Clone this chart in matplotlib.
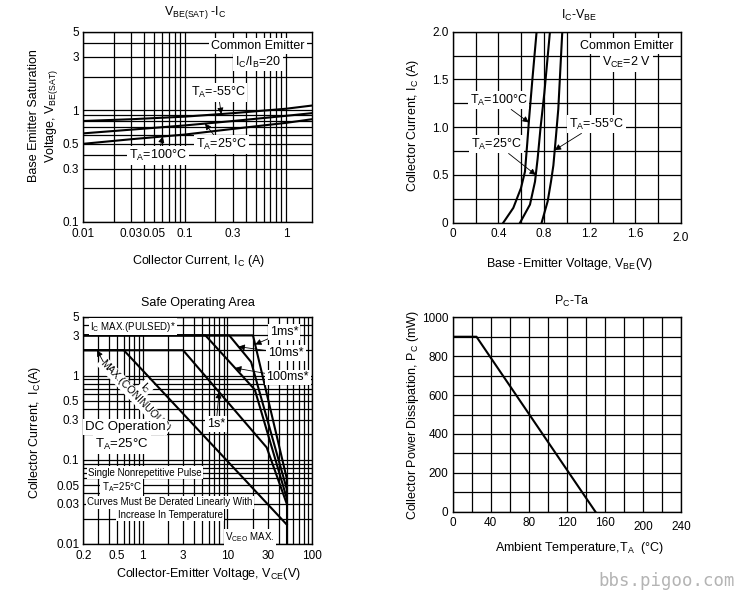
import numpy as np
import matplotlib
matplotlib.use('Agg')
import matplotlib.pyplot as plt
from matplotlib.ticker import NullFormatter

plt.rcParams['font.family'] = ['Liberation Sans', 'DejaVu Sans']
plt.rcParams['mathtext.fontset'] = 'custom'
plt.rcParams['mathtext.rm'] = 'Liberation Sans'
plt.rcParams['mathtext.it'] = 'Liberation Sans:italic'
plt.rcParams['mathtext.bf'] = 'Liberation Sans:bold'
plt.rcParams['font.size'] = 9

# VBE(SAT) - Ic
ic_sat = [0.01, 0.03, 0.1, 0.3, 1.0, 1.8]
vbe_sat_m55 = [0.80, 0.83, 0.875, 0.94, 1.03, 1.10]
vbe_sat_25 = [0.62, 0.67, 0.73, 0.80, 0.89, 0.94]
vbe_sat_100 = [0.50, 0.55, 0.605, 0.68, 0.77, 0.83]

# Ic - VBE
vbe_100 = [0.443, 0.531, 0.598, 0.633, 0.654, 0.669, 0.698, 0.735]
ic_100 = [0.0, 0.155, 0.362, 0.534, 0.845, 1.086, 1.5, 2.0]
vbe_25 = [0.59, 0.677, 0.721, 0.744, 0.77, 0.803, 0.852]
ic_25 = [0.0, 0.19, 0.43, 0.67, 1.0, 1.36, 2.0]
vbe_m55 = [0.779, 0.832, 0.861, 0.882, 0.905, 0.925, 0.96]
ic_m55 = [0.0, 0.224, 0.43, 0.6, 0.91, 1.19, 2.0]

# Safe operating area
vce_dc = [0.2, 0.6, 50]
ic_dc = [2, 2, 0.017]
vce_1s = [0.2, 3, 29, 50]
ic_1s = [2, 2, 0.14, 0.03]
vce_100ms = [0.2, 5.5, 21, 50]
ic_100ms = [3, 3, 0.68, 0.035]
vce_10ms = [0.2, 10.5, 19, 50]
ic_10ms = [3, 3, 1.45, 0.045]
vce_1ms = [0.2, 20, 50]
ic_1ms = [3, 3, 0.06]
vceo = [50, 50]
ic_vceo = [0.06, 0.01]

# Pc - Ta
ta = [0, 25, 150]
pc = [900, 900, 0]

W, H = 743, 600
fig = plt.figure(figsize=(W / 100, H / 100), dpi=100)


def ftext(px, py, s, **kw):
    fig.text(px / W, 1 - py / H, s, ha='center', va='center', **kw)


def add_ax(l, t, r, b):
    return fig.add_axes([l / W, 1 - b / H, (r - l) / W, (b - t) / H])


def log_minors(lo, hi, majors):
    out = []
    for e in range(-3, 3):
        for k in range(1, 10):
            v = round(k * 10.0 ** e, 6)
            if lo <= v <= hi and v not in majors:
                out.append(v)
    return out


def on_loglog(x, xs, ys):
    return 10 ** np.interp(np.log10(x), np.log10(xs), np.log10(ys))


def style(ax, xpad=3):
    ax.grid(which='both', color='k', lw=0.9)
    ax.set_axisbelow(True)
    ax.tick_params(which='both', length=0, pad=3, labelsize=8.5)
    ax.tick_params(axis='x', which='both', pad=xpad)
    for s in ax.spines.values():
        s.set_linewidth(1.0)


box = dict(boxstyle='square,pad=0.15', fc='white', ec='none')
arw = dict(arrowstyle='-|>', lw=0.6, color='k', mutation_scale=9, shrinkA=0, shrinkB=0)
lw_curve = 1.5

# ---------------- VBE(SAT) - Ic ----------------
ax1 = add_ax(83, 32, 312, 222)
ax1.set_xscale('log')
ax1.set_yscale('log')
ax1.plot(ic_sat, vbe_sat_m55, color='k', lw=lw_curve)
ax1.plot(ic_sat, vbe_sat_25, color='k', lw=lw_curve)
ax1.plot(ic_sat, vbe_sat_100, color='k', lw=lw_curve)
ax1.set_xlim(0.01, 1.8)
ax1.set_ylim(0.1, 5)
xt = [0.01, 0.03, 0.05, 0.1, 0.3, 1]
yt = [0.1, 0.3, 0.5, 1, 3, 5]
ax1.set_xticks(xt)
ax1.set_xticklabels(['0.01', '0.03', '0.05', '0.1', '0.3', '1'])
ax1.set_xticks(log_minors(0.01, 1.8, xt), minor=True)
ax1.set_yticks(yt)
ax1.set_yticklabels(['0.1', '0.3', '0.5', '1', '3', '5'])
ax1.set_yticks(log_minors(0.1, 5, yt), minor=True)
ax1.xaxis.set_minor_formatter(NullFormatter())
ax1.yaxis.set_minor_formatter(NullFormatter())
style(ax1, xpad=4.5)
ax1.text(0.764, 0.926, 'Common Emitter', transform=ax1.transAxes, ha='center', va='center', bbox=box)
ax1.text(0.764, 0.842, r'I$_\mathregular{C}$/I$_\mathregular{B}$=20', transform=ax1.transAxes,
         ha='center', va='center', bbox=box)
ax1.annotate(r'T$_\mathregular{A}$=-55°C', xy=(0.23, on_loglog(0.23, ic_sat, vbe_sat_m55)),
             xytext=(0.214, 1.44), ha='center', va='center', bbox=box, arrowprops=arw)
ax1.annotate(r'T$_\mathregular{A}$=25°C', xy=(0.159, on_loglog(0.159, ic_sat, vbe_sat_25)),
             xytext=(0.231, 0.49), ha='center', va='center', bbox=box, arrowprops=arw)
ax1.annotate(r'T$_\mathregular{A}$=100°C', xy=(0.061, on_loglog(0.061, ic_sat, vbe_sat_100)),
             xytext=(0.055, 0.393), ha='center', va='center', bbox=box, arrowprops=arw)
ftext(195, 13, r'V$_\mathregular{BE(SAT)}$ -I$_\mathregular{C}$')
ftext(44, 116, 'Base Emitter Saturation\n' + r'Voltage, V$_\mathregular{BE(SAT)}$', rotation=90, linespacing=1.3)
ftext(199, 261, r'Collector Current, I$_\mathregular{C}$ (A)')

# ---------------- Ic - VBE ----------------
ax2 = add_ax(452.7, 31.7, 681, 222.7)
ax2.plot(vbe_100, ic_100, color='k', lw=lw_curve)
ax2.plot(vbe_25, ic_25, color='k', lw=lw_curve)
ax2.plot(vbe_m55, ic_m55, color='k', lw=lw_curve)
ax2.set_xlim(0, 2.0)
ax2.set_ylim(0, 2.0)
ax2.set_xticks(np.arange(0, 2.01, 0.4))
ax2.set_xticklabels(['0', '0.4', '0.8', '1.2', '1.6', '2.0'])
ax2.set_xticks(np.arange(0.2, 2.0, 0.4), minor=True)
ax2.set_yticks(np.arange(0, 2.01, 0.5))
ax2.set_yticklabels(['0', '0.5', '1.0', '1.5', '2.0'])
ax2.set_yticks(np.arange(0.25, 2.0, 0.5), minor=True)
style(ax2, xpad=4)
ax2.xaxis.get_major_ticks()[-1].set_pad(7)
ax2.text(0.761, 0.924, 'Common Emitter', transform=ax2.transAxes, ha='center', va='center', bbox=box)
ax2.text(0.761, 0.84, r'V$_\mathregular{CE}$=2 V', transform=ax2.transAxes, ha='center', va='center', bbox=box)
ax2.annotate(r'T$_\mathregular{A}$=100°C', xy=(np.interp(1.05, ic_100, vbe_100), 1.05),
             xytext=(0.40, 1.285), ha='center', va='center', bbox=box, arrowprops=arw)
ax2.annotate(r'T$_\mathregular{A}$=25°C', xy=(np.interp(0.5, ic_25, vbe_25), 0.5),
             xytext=(0.385, 0.824), ha='center', va='center', bbox=box, arrowprops=arw)
ax2.annotate(r'T$_\mathregular{A}$=-55°C', xy=(np.interp(0.76, ic_m55, vbe_m55), 0.76),
             xytext=(1.26, 1.034), ha='center', va='center', bbox=box, arrowprops=arw)
ftext(579, 15, r'I$_\mathregular{C}$-V$_\mathregular{BE}$')
ftext(413, 125, r'Collector Current, I$_\mathregular{C}$ (A)', rotation=90)
ftext(569, 264, r'Base -Emitter Voltage, V$_\mathregular{BE}$(V)')

# ---------------- Safe Operating Area ----------------
ax3 = add_ax(83.3, 316.7, 312.3, 544)
ax3.set_xscale('log')
ax3.set_yscale('log')
for xs, ys in [(vce_dc, ic_dc), (vce_1s, ic_1s), (vce_100ms, ic_100ms),
               (vce_10ms, ic_10ms), (vce_1ms, ic_1ms), (vceo, ic_vceo)]:
    ax3.plot(xs, ys, color='k', lw=lw_curve)
ax3.set_xlim(0.2, 100)
ax3.set_ylim(0.01, 5)
xt3 = [0.2, 0.5, 1, 3, 10, 30, 100]
yt3 = [0.01, 0.03, 0.05, 0.1, 0.3, 0.5, 1, 3, 5]
ax3.set_xticks(xt3)
ax3.set_xticklabels(['0.2', '0.5', '1', '3', '10', '30', '100'])
ax3.set_xticks(log_minors(0.2, 100, xt3), minor=True)
ax3.set_yticks(yt3)
ax3.set_yticklabels(['0.01', '0.03', '0.05', '0.1', '0.3', '0.5', '1', '3', '5'])
ax3.set_yticks(log_minors(0.01, 5, yt3), minor=True)
ax3.xaxis.set_minor_formatter(NullFormatter())
ax3.yaxis.set_minor_formatter(NullFormatter())
style(ax3, xpad=4.5)
small = 7
ax3.text(0.03, 0.956, r'I$_\mathregular{C}$ MAX.(PULSED)*', transform=ax3.transAxes, ha='left', va='center',
         fontsize=small, bbox=box)
ax3.text(0.272, 0.688, r'I$_\mathregular{C}$', transform=ax3.transAxes, ha='center', va='center',
         rotation=-46, fontsize=small + 0.5, bbox=box, zorder=1.5)
ax3.text(0.226, 0.652, 'MAX.(CONINUOUS)', transform=ax3.transAxes, ha='center', va='center',
         rotation=-46, fontsize=small + 0.5, bbox=box, zorder=1.5)
ax3.annotate('', xy=(0.29, 2), xytext=(0.344, 1.46), arrowprops=arw)
ax3.text(0.182, 0.513, 'DC Operation', transform=ax3.transAxes, ha='center', va='center',
         fontsize=9.5, bbox=box)
ax3.text(0.168, 0.436, r'T$_\mathregular{A}$=25°C', transform=ax3.transAxes, ha='center', va='center',
         fontsize=9.5, bbox=box)
ax3.text(0.022, 0.314, 'Single Nonrepetitive Pulse', transform=ax3.transAxes, ha='left', va='center',
         fontsize=small, bbox=box)
ax3.text(0.168, 0.249, r'T$_\mathregular{A}$=25°C', transform=ax3.transAxes, ha='center', va='center',
         fontsize=small, bbox=box)
ax3.text(0.379, 0.183, 'Curves Must Be Derated Linearly With', transform=ax3.transAxes, ha='center',
         va='center', fontsize=small, bbox=box)
ax3.text(0.379, 0.128, 'Increase In Temperature', transform=ax3.transAxes, ha='center', va='center',
         fontsize=small, bbox=box)
ax3.text(0.728, 0.029, r'V$_\mathregular{CEO}$ MAX.', transform=ax3.transAxes, ha='center', va='center',
         fontsize=small, bbox=box)
ax3.annotate('1ms*', xy=(21.2, on_loglog(21.2, vce_1ms[1:], ic_1ms[1:])), xytext=(0.815, 0.934),
             textcoords='axes fraction', ha='left', va='center', bbox=box, arrowprops=arw)
ax3.annotate('10ms*', xy=(13.5, on_loglog(13.5, vce_10ms[1:], ic_10ms[1:])), xytext=(0.808, 0.839),
             textcoords='axes fraction', ha='left', va='center', bbox=box, arrowprops=arw)
ax3.annotate('100ms*', xy=(12.3, on_loglog(12.3, vce_100ms[1:], ic_100ms[1:])), xytext=(0.80, 0.733),
             textcoords='axes fraction', ha='left', va='center', bbox=box, arrowprops=arw)
ax3.annotate('1s*', xy=(7.96, on_loglog(7.96, vce_1s[1:], ic_1s[1:])), xytext=(0.58, 0.527),
             textcoords='axes fraction', ha='center', va='center', bbox=box, arrowprops=arw)
ftext(198, 303, 'Safe Operating Area')
ftext(35, 432, r'Collector Current,  I$_\mathregular{C}$(A)', rotation=90)
ftext(208, 574, r'Collector-Emitter Voltage, V$_\mathregular{CE}$(V)')

# ---------------- Pc - Ta ----------------
ax4 = add_ax(452.7, 317.3, 681, 511.7)
ax4.plot(ta, pc, color='k', lw=lw_curve)
ax4.set_xlim(0, 240)
ax4.set_ylim(0, 1000)
ax4.set_xticks(np.arange(0, 241, 40))
ax4.set_xticks(np.arange(20, 240, 40), minor=True)
ax4.set_yticks(np.arange(0, 1001, 200))
ax4.set_yticks(np.arange(100, 1000, 200), minor=True)
style(ax4, xpad=4)
for t in ax4.xaxis.get_major_ticks()[-2:]:
    t.set_pad(7)
ftext(571.7, 301.7, r'P$_\mathregular{C}$-Ta')
ftext(412.7, 415, r'Collector Power Dissipation, P$_\mathregular{C}$ (mW)', rotation=90)
ftext(579, 548, r'Ambient Temperature,T$_\mathregular{A}$  (°C)')

fig.text(735 / W, 1 - 586 / H, 'bbs.pigoo.com', ha='right', va='baseline', fontsize=12.5,
         family='DejaVu Sans Mono', color='#b4b4b4')

fig.savefig('out.png', dpi=100)
